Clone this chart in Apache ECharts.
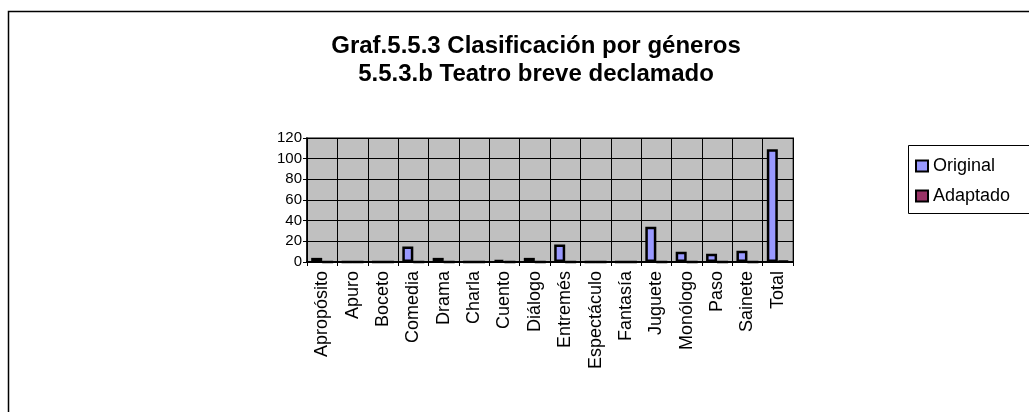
<!DOCTYPE html>
<html><head><meta charset="utf-8">
<script src="https://cdn.jsdelivr.net/npm/echarts@6/dist/echarts.min.js"></script>
<style>html,body{margin:0;padding:0;background:#fff}#c{width:1029px;height:412px}</style>
</head><body><div id="c"></div>
<script>
const categories = ['Apropósito','Apuro','Boceto','Comedia','Drama','Charla','Cuento','Diálogo','Entremés','Espectáculo','Fantasía','Juguete','Monólogo','Paso','Sainete','Total'];
const original = [4,0,0,15,4,0,2,4,17,0,0,34,10,8,11,109];
const adaptado = [0,0,0,0,0,0,0,0,0,0,0,0,0,0,0,1];
const yTicks = [0,20,40,60,80,100,120];

const FONT = 'Liberation Sans, Arial, sans-serif';
const chart = echarts.init(document.getElementById('c'));
chart.setOption({
  animation:false,
  backgroundColor:'#fff',
  textStyle:{fontFamily:FONT},
  title:{
    text:'Graf.5.5.3 Clasificación por géneros\n5.5.3.b Teatro breve declamado',
    left:531, top:27, textAlign:'center',
    textStyle:{fontSize:24,fontWeight:'bold',color:'#000',lineHeight:28,fontFamily:FONT}
  },
  graphic:[
    {type:'rect',shape:{x:8.5,y:11.5,width:1040,height:420},style:{fill:'none',stroke:'#000',lineWidth:1.5},silent:true,z:-1},
    {type:'rect',shape:{x:908.5,y:145.5,width:140,height:68},style:{fill:'#fff',stroke:'#000',lineWidth:1},silent:true,z:0}
  ],
  legend:{
    left:915, top:157, padding:0, orient:'vertical', itemGap:12, itemWidth:12, itemHeight:11, icon:'rect',
    textStyle:{fontSize:18,color:'#000',padding:[0,0,0,0],fontFamily:FONT},
    data:['Original','Adaptado'], z:5
  },
  grid:{left:307, top:138, width:486, height:124, backgroundColor:'#c0c0c0', show:true, borderColor:'#808080', borderWidth:2},
  xAxis:{
    type:'category', data:categories,
    axisLine:{lineStyle:{color:'#000',width:2}},
    axisTick:{show:true,length:4,lineStyle:{color:'#000'}},
    splitLine:{show:true,lineStyle:{color:'#000',width:1}},
    axisLabel:{rotate:90,fontSize:18,color:'#000',margin:9,interval:0,fontFamily:FONT}
  },
  yAxis:{
    type:'value', min:0, max:120, interval:20,
    axisLine:{show:true,lineStyle:{color:'#000',width:1.5}},
    axisTick:{show:true,length:4,lineStyle:{color:'#000'}},
    splitLine:{show:true,lineStyle:{color:'#000',width:1}},
    axisLabel:{fontSize:15,color:'#000',margin:5,fontFamily:FONT,
      formatter:v=>yTicks.includes(v)?String(v):''}
  },
  series:[
    {name:'Original',type:'bar',data:original,barWidth:11,barGap:'0%',
     itemStyle:{color:'#9999ff',borderColor:'#000',borderWidth:2.5}},
    {name:'Adaptado',type:'bar',data:adaptado,barWidth:11,
     itemStyle:{color:'#993366',borderColor:'#000',borderWidth:2.5}}
  ]
});
</script></body></html>
